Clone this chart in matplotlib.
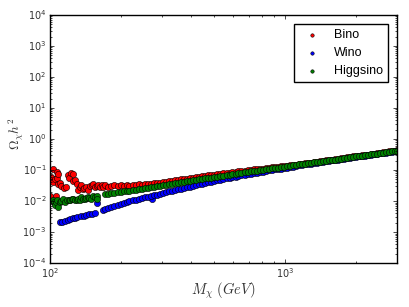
import numpy as np
import matplotlib
matplotlib.use("Agg")
import matplotlib.pyplot as plt

# common mass grid (GeV) above the light-mass region
mass_main = [
    172, 177, 182, 188, 194, 200, 206, 212, 218, 225,
    232, 239, 246, 253, 261, 269, 277, 285, 294, 303,
    312, 321, 331, 341, 351, 362, 372, 384, 395, 407,
    419, 432, 445, 458, 472, 486, 501, 516, 531, 547,
    564, 581, 598, 616, 634, 653, 673, 693, 714, 735,
    757, 780, 804, 828, 853, 878, 905, 932, 960, 988,
    1018, 1049, 1080, 1112, 1146, 1180, 1216, 1252, 1290, 1328,
    1368, 1409, 1451, 1495, 1540, 1586, 1634, 1683, 1733, 1785,
    1839, 1894, 1951, 2009, 2070, 2132, 2196, 2262, 2329, 2399,
    2471, 2545, 2622, 2700, 2781, 2865, 2951, 3000,
]

# log10(Omega h^2)
bino_log_main = [
    -1.49, -1.53, -1.50, -1.47, -1.52, -1.49, -1.51, -1.48, -1.50, -1.47,
    -1.49, -1.46, -1.48, -1.45, -1.46, -1.44, -1.43, -1.42, -1.41, -1.39,
    -1.38, -1.36, -1.35, -1.33, -1.32, -1.30, -1.29, -1.28, -1.26, -1.25,
    -1.23, -1.22, -1.20, -1.19, -1.17, -1.16, -1.15, -1.13, -1.12, -1.11,
    -1.09, -1.08, -1.07, -1.06, -1.04, -1.03, -1.02, -1.01, -0.99, -0.98,
    -0.97, -0.96, -0.95, -0.93, -0.92, -0.91, -0.90, -0.89, -0.88, -0.87,
    -0.86, -0.85, -0.84, -0.83, -0.81, -0.80, -0.78, -0.77, -0.76, -0.74,
    -0.73, -0.72, -0.70, -0.69, -0.67, -0.66, -0.65, -0.63, -0.62, -0.61,
    -0.59, -0.58, -0.56, -0.55, -0.54, -0.52, -0.51, -0.50, -0.48, -0.47,
    -0.46, -0.44, -0.43, -0.42, -0.40, -0.39, -0.37, -0.36,
]
wino_log_main = [
    -2.25, -2.22, -2.19, -2.16, -2.13, -2.10, -2.07, -2.04, -2.01, -1.98,
    -1.96, -1.93, -1.91, -1.88, -1.86, -1.83, -1.81, -1.79, -1.76, -1.74,
    -1.72, -1.69, -1.67, -1.64, -1.62, -1.60, -1.57, -1.55, -1.53, -1.50,
    -1.48, -1.46, -1.44, -1.41, -1.39, -1.37, -1.35, -1.33, -1.31, -1.29,
    -1.27, -1.25, -1.23, -1.21, -1.19, -1.17, -1.15, -1.14, -1.12, -1.10,
    -1.08, -1.06, -1.05, -1.03, -1.01, -1.00, -0.98, -0.96, -0.95, -0.93,
    -0.92, -0.90, -0.89, -0.87, -0.85, -0.84, -0.82, -0.81, -0.79, -0.78,
    -0.76, -0.75, -0.73, -0.72, -0.70, -0.69, -0.67, -0.66, -0.64, -0.63,
    -0.61, -0.60, -0.58, -0.57, -0.56, -0.54, -0.53, -0.52, -0.50, -0.49,
    -0.48, -0.46, -0.45, -0.44, -0.42, -0.41, -0.39, -0.38,
]
higgsino_log_main = [
    -1.78, -1.76, -1.75, -1.73, -1.72, -1.70, -1.69, -1.67, -1.66, -1.64,
    -1.63, -1.61, -1.60, -1.58, -1.57, -1.55, -1.54, -1.52, -1.51, -1.49,
    -1.47, -1.46, -1.44, -1.43, -1.41, -1.39, -1.38, -1.36, -1.35, -1.33,
    -1.31, -1.30, -1.28, -1.27, -1.25, -1.24, -1.22, -1.21, -1.19, -1.18,
    -1.16, -1.15, -1.13, -1.12, -1.10, -1.09, -1.07, -1.06, -1.04, -1.03,
    -1.02, -1.00, -0.99, -0.97, -0.96, -0.94, -0.93, -0.92, -0.90, -0.89,
    -0.88, -0.86, -0.85, -0.84, -0.82, -0.81, -0.79, -0.78, -0.77, -0.75,
    -0.74, -0.73, -0.71, -0.70, -0.68, -0.67, -0.66, -0.64, -0.63, -0.62,
    -0.60, -0.59, -0.57, -0.56, -0.55, -0.53, -0.52, -0.51, -0.49, -0.48,
    -0.47, -0.45, -0.44, -0.43, -0.41, -0.40, -0.38, -0.37,
]

# light-mass region, scattered points
bino_mass_low = [
    100, 101.5, 103, 103.5, 105, 106, 107, 107.5, 108.5, 108,
    110, 112, 115, 117.5, 119.5, 121, 123, 125, 126, 128,
    130, 132, 134, 136, 138, 140, 143, 145.5, 148, 151,
    153, 155, 158, 160.5, 163, 166, 168,
]
bino_log_low = [
    -1.82, -1.22, -0.96, -1.39, -1.28, -1.83, -1.06, -1.25, -1.12, -1.44,
    -1.43, -1.50, -1.58, -1.55, -1.17, -1.27, -1.10, -1.12, -1.35, -1.33,
    -1.44, -1.65, -1.55, -1.49, -1.60, -1.58, -1.55, -1.65, -1.52, -1.47,
    -1.44, -1.55, -1.50, -1.49, -1.54, -1.47, -1.55,
]
wino_mass_low = [
    110, 113, 116, 119, 122, 125, 128, 131, 135, 139,
    143, 147, 151, 155, 158, 168, 271,
]
wino_log_low = [
    -2.68, -2.66, -2.63, -2.60, -2.58, -2.56, -2.53, -2.51, -2.49, -2.47,
    -2.45, -2.43, -2.41, -2.39, -2.06, -2.28, -1.92,
]
higgsino_mass_low = [
    103, 104, 105, 106.5, 107.5, 108.5, 110, 112, 114, 116,
    118, 120, 122, 124, 126, 128, 130, 132, 134, 136,
    138, 141, 143, 145, 147, 150, 153, 155, 158, 158.5,
]
higgsino_log_low = [
    -1.98, -2.03, -2.14, -2.04, -1.95, -2.19, -2.03, -1.99, -1.92, -2.02,
    -1.98, -1.96, -1.98, -1.94, -1.92, -1.97, -1.98, -1.92, -1.95, -1.87,
    -1.93, -1.92, -1.89, -1.87, -1.91, -1.92, -1.82, -1.86, -1.82, -1.92,
]

plt.style.use("classic")
plt.rcParams["mathtext.fontset"] = "cm"

fig = plt.figure(figsize=(4.09, 3.07), dpi=100)
ax = fig.add_axes([0.122, 0.143, 0.849, 0.808])

series = [
    ("Bino", "red", bino_mass_low, bino_log_low, bino_log_main),
    ("Wino", "blue", wino_mass_low, wino_log_low, wino_log_main),
    ("Higgsino", "green", higgsino_mass_low, higgsino_log_low, higgsino_log_main),
]
for name, col, m_low, y_low, y_main in series:
    m = np.concatenate([m_low, mass_main])
    y = 10 ** np.concatenate([y_low, y_main])
    ax.scatter(m, y, s=20, c=col, edgecolors="black", linewidths=0.4, label=name)

ax.set_xscale("log")
ax.set_yscale("log")
ax.set_xlim(100, 3000)
ax.set_ylim(1e-4, 1e4)
ax.tick_params(which="both", labelsize=7, pad=2.5, length=3, labelcolor="#333333")
ax.tick_params(which="minor", length=1.5)
ax.set_xlabel(r"$M_\chi\ (GeV)$", fontsize=10.5, color="#333333", labelpad=0)
ax.set_ylabel(r"$\Omega_\chi h^2$", fontsize=9.5, color="#333333")
ax.yaxis.set_label_coords(-0.068, 0.52)

leg = ax.legend(loc="upper right", scatterpoints=1, markerscale=0.55,
                prop={"family": "Liberation Sans", "size": 9},
                borderaxespad=0.7)

fig.savefig("out.png", dpi=100)
